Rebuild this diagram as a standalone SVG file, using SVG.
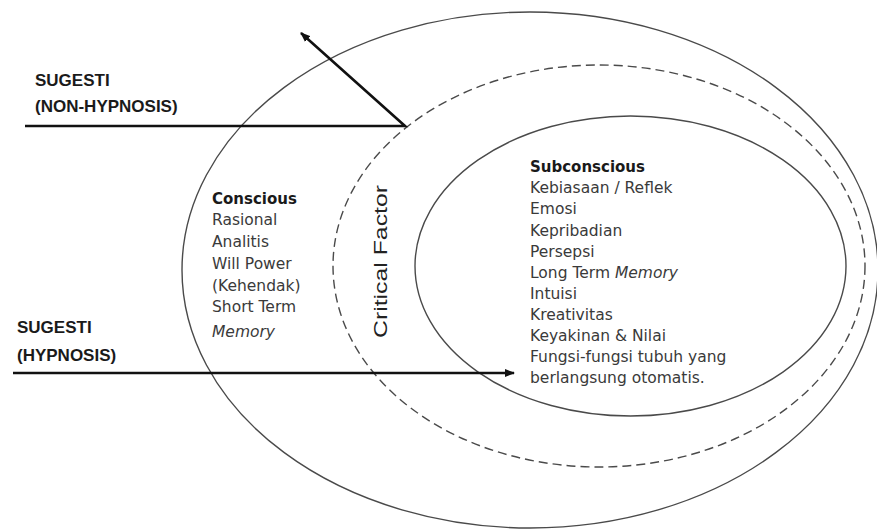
<svg xmlns="http://www.w3.org/2000/svg" width="877" height="532" viewBox="0 0 877 532">
<style>
.ell{fill:none;stroke:#4a4a4a;stroke-width:1.4}
.dash{stroke-dasharray:9 5}
.arr{fill:none;stroke:#111;stroke-width:2.6}
.lbl{font-family:"Liberation Sans",Arial,sans-serif;font-weight:bold;font-size:17px;fill:#1a1a1a}
.hd{font-family:"DejaVu Sans",Verdana,sans-serif;font-weight:bold;font-size:15px;fill:#1a1a1a}
.it{font-family:"DejaVu Sans",Verdana,sans-serif;font-size:15.5px;fill:#3a3a3a}
.cf{font-family:"Liberation Sans",Arial,sans-serif;font-size:19px;fill:#222}
</style>
<defs>
<marker id="ah" markerWidth="10" markerHeight="8" refX="9" refY="4" orient="auto" markerUnits="userSpaceOnUse">
<path d="M0,0 L10,4 L0,8 Z" fill="#111"/>
</marker>
</defs>
<g id="outer">
<ellipse class="ell" cx="530" cy="270" rx="348" ry="258"/>
</g>
<g id="critical">
<ellipse class="ell dash" cx="599" cy="266" rx="266" ry="201"/>
<text class="cf" transform="translate(387,261.5) rotate(-90)" text-anchor="middle" textLength="153" lengthAdjust="spacingAndGlyphs">Critical Factor</text>
</g>
<g id="subconscious">
<ellipse class="ell" cx="630.5" cy="266" rx="215.5" ry="150"/>
<text class="hd" x="530" y="172">Subconscious</text>
<text class="it" x="530" y="193">Kebiasaan / Reflek</text>
<text class="it" x="530" y="214">Emosi</text>
<text class="it" x="530" y="235.5">Kepribadian</text>
<text class="it" x="530" y="256.5">Persepsi</text>
<text class="it" x="530" y="277.5">Long Term <tspan font-style="italic">Memory</tspan></text>
<text class="it" x="530" y="298.5">Intuisi</text>
<text class="it" x="530" y="320">Kreativitas</text>
<text class="it" x="530" y="341">Keyakinan &amp; Nilai</text>
<text class="it" x="530" y="362">Fungsi-fungsi tubuh yang</text>
<text class="it" x="530" y="383">berlangsung otomatis.</text>
</g>
<g id="conscious">
<text class="hd" x="212" y="204">Conscious</text>
<text class="it" x="212" y="225">Rasional</text>
<text class="it" x="212" y="247">Analitis</text>
<text class="it" x="212" y="269">Will Power</text>
<text class="it" x="212" y="291">(Kehendak)</text>
<text class="it" x="212" y="312">Short Term</text>
<text class="it" x="212" y="337" font-style="italic">Memory</text>
</g>
<g id="sugesti-non-hypnosis">
<text class="lbl" x="35" y="86">SUGESTI</text>
<text class="lbl" x="35" y="112">(NON-HYPNOSIS)</text>
</g>
<g id="sugesti-hypnosis">
<text class="lbl" x="17" y="333">SUGESTI</text>
<text class="lbl" x="17" y="361">(HYPNOSIS)</text>
</g>
<g id="connectors">
<polyline class="arr" points="25,126 405,126 301,33" marker-end="url(#ah)"/>
<line class="arr" x1="13" y1="373" x2="514" y2="373" marker-end="url(#ah)"/>
</g>
</svg>
